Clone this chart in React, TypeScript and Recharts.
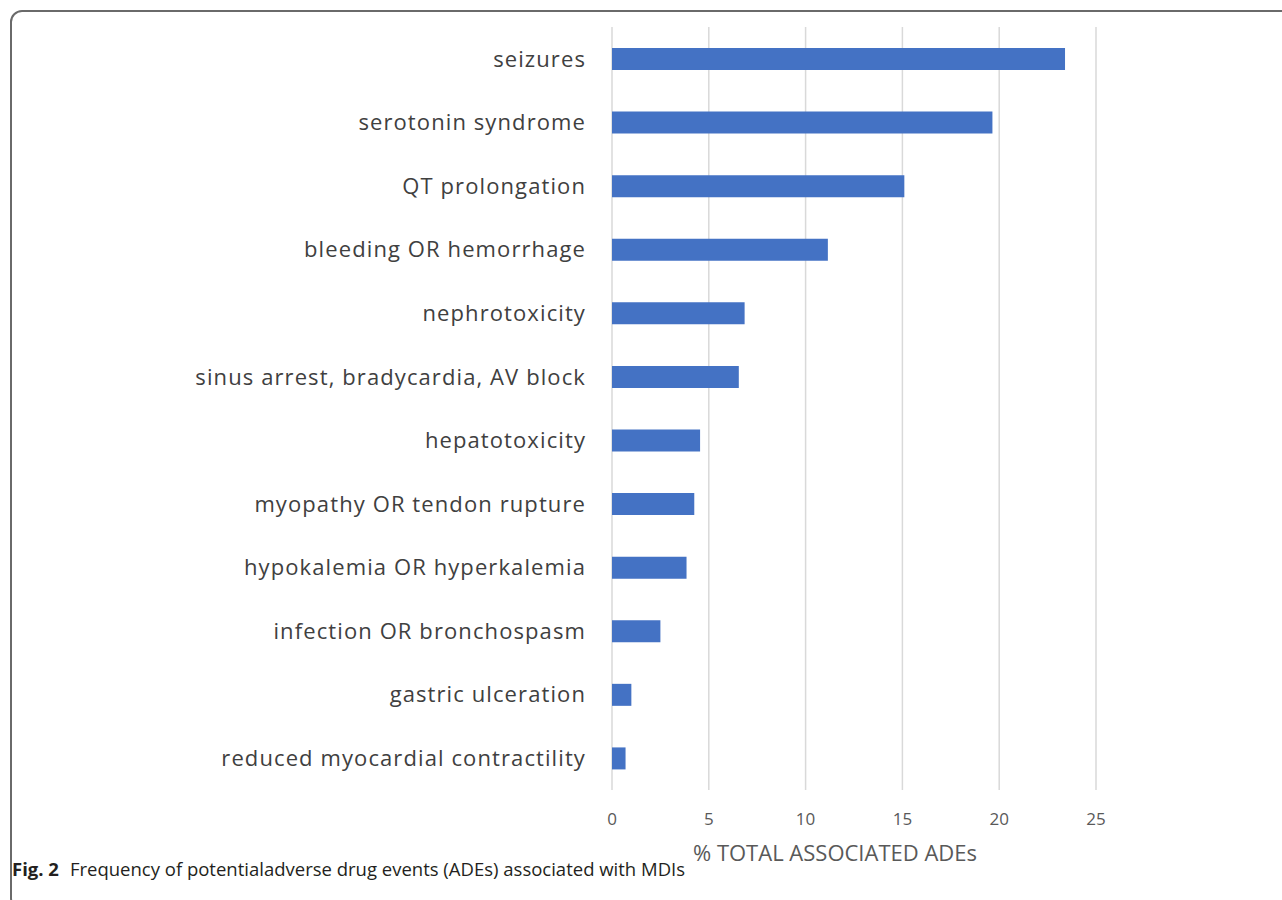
import React from 'react';
import { BarChart, Bar, XAxis, YAxis, CartesianGrid } from 'recharts';

const categories = [
  'seizures',
  'serotonin syndrome',
  'QT prolongation',
  'bleeding OR hemorrhage',
  'nephrotoxicity',
  'sinus arrest, bradycardia, AV block',
  'hepatotoxicity',
  'myopathy OR tendon rupture',
  'hypokalemia OR hyperkalemia',
  'infection OR bronchospasm',
  'gastric ulceration',
  'reduced myocardial contractility',
];
const percentValues = [23.4, 19.65, 15.1, 11.15, 6.85, 6.55, 4.55, 4.25, 3.85, 2.5, 1.0, 0.7];
const xTicks = [0, 5, 10, 15, 20, 25];
const axisTitle = '% TOTAL ASSOCIATED ADEs';
const captionBold = 'Fig. 2';
const captionText = 'Frequency of potentialadverse drug events (ADEs) associated with MDIs';

const data = categories.map((name, i) => ({ name, value: percentValues[i] }));

const FONT = '"Open Sans", "Noto Sans", sans-serif';

export default function App() {
  return (
    <div style={{ position: 'absolute', left: 0, top: 0, width: 1282, height: 900, overflow: 'hidden', background: '#fff' }}>
      <div
        style={{
          position: 'absolute',
          left: 10,
          top: 10,
          width: 1300,
          height: 900,
          border: '2px solid #6a6a6a',
          borderRadius: 12,
          boxSizing: 'border-box',
        }}
      />
      <div style={{ position: 'absolute', left: 0, top: 0 }}>
        <BarChart
          width={1282}
          height={900}
          data={data}
          layout="vertical"
          margin={{ top: 27, right: 186, bottom: 30, left: 0 }}
          barCategoryGap="0%"
        >
          <CartesianGrid horizontal={false} vertical={true} stroke="#d9d9d9" strokeWidth={1.5} />
          <XAxis
            type="number"
            domain={[0, 25]}
            ticks={xTicks}
            axisLine={false}
            tickLine={false}
            tickSize={0}
            tickMargin={23}
            height={80}
            tick={{ fill: '#595959', fontSize: 17, fontFamily: FONT }}
            label={{
              value: axisTitle,
              position: 'insideBottom',
              offset: 9,
              dx: -19,
              fill: '#595959',
              fontSize: 22,
              fontFamily: FONT,
            }}
          />
          <YAxis
            type="category"
            dataKey="name"
            width={612}
            axisLine={false}
            tickLine={false}
            tickSize={0}
            tickMargin={26}
            interval={0}
            tick={{ fill: '#404040', fontSize: 22, fontFamily: FONT, letterSpacing: 1.1 }}
          />
          <Bar dataKey="value" fill="#4472C4" barSize={22} isAnimationActive={false} />
        </BarChart>
      </div>
      <div
        style={{
          position: 'absolute',
          left: 12,
          top: 856,
          fontFamily: FONT,
          fontSize: 18.5,
          color: '#231f20',
          whiteSpace: 'nowrap',
        }}
      >
        <span style={{ fontWeight: 700 }}>{captionBold}</span>
        <span style={{ marginLeft: 11 }}>{captionText}</span>
      </div>
    </div>
  );
}
